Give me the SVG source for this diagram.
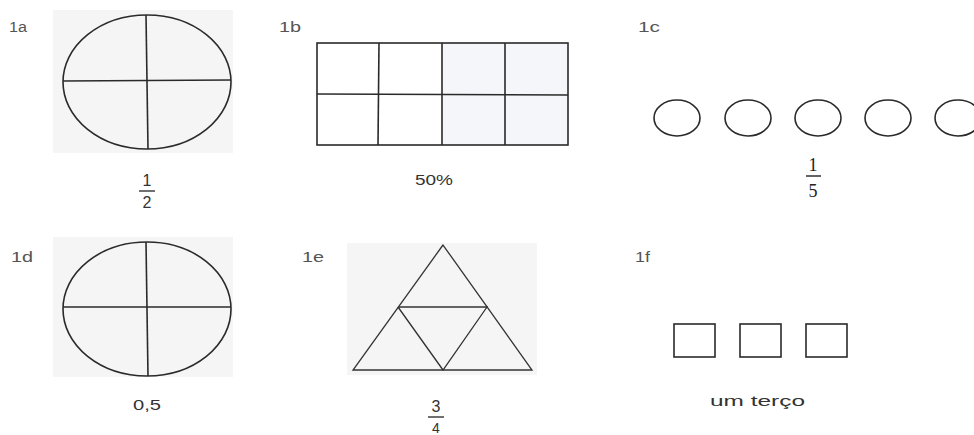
<svg xmlns="http://www.w3.org/2000/svg" width="974" height="435" viewBox="0 0 974 435">
<style>
.bg{fill:#f5f5f5;stroke:none}
.ln{fill:none;stroke:#2a2a2a;stroke-width:1.6}
.tl{fill:none;stroke:#333;stroke-width:1.3}
.lbl{font-family:"Liberation Sans",Arial,sans-serif;font-size:14px;fill:#555}
.txt{font-family:"Liberation Sans",Arial,sans-serif;font-size:14px;fill:#333}
.frac{font-family:"Liberation Sans",Arial,sans-serif;font-size:16px;fill:#333}
.ser{font-family:"Liberation Serif","Times New Roman",serif;font-size:18px;fill:#222}
</style>
<rect width="974" height="435" fill="#fff"/>
<g id="n1a">
<text class="lbl" x="9" y="32" textLength="18" lengthAdjust="spacingAndGlyphs">1a</text>
<rect class="bg" x="53" y="10" width="180" height="143"/>
<ellipse class="ln" cx="147" cy="82" rx="84" ry="67"/>
<line class="ln" x1="63" y1="81" x2="231" y2="80"/>
<line class="ln" x1="146" y1="15" x2="148" y2="149"/>
<text class="frac" x="147" y="186" text-anchor="middle">1</text>
<line x1="139" y1="191" x2="155" y2="191" stroke="#333" stroke-width="1.4"/>
<text class="frac" x="147" y="208" text-anchor="middle">2</text>
</g>
<g id="n1b">
<text class="lbl" x="279" y="32" textLength="22" lengthAdjust="spacingAndGlyphs">1b</text>
<rect x="442" y="43" width="126" height="102" fill="#f5f6f9"/>
<rect class="ln" x="317" y="43" width="251" height="102"/>
<line class="ln" x1="317" y1="94" x2="568" y2="95"/>
<line class="ln" x1="379" y1="43" x2="378" y2="145"/>
<line class="ln" x1="442" y1="43" x2="442" y2="145"/>
<line class="ln" x1="505" y1="43" x2="505" y2="145"/>
<text class="txt" x="415" y="185" textLength="38" lengthAdjust="spacingAndGlyphs">50%</text>
</g>
<g id="n1c">
<text class="lbl" x="638" y="32" textLength="22" lengthAdjust="spacingAndGlyphs">1c</text>
<ellipse class="ln" cx="677" cy="118" rx="23" ry="18"/>
<ellipse class="ln" cx="748" cy="118" rx="23" ry="18"/>
<ellipse class="ln" cx="818" cy="118" rx="23" ry="18"/>
<ellipse class="ln" cx="888" cy="118" rx="23" ry="18"/>
<ellipse class="ln" cx="958" cy="118" rx="23" ry="18"/>
<text class="ser" x="813" y="171" text-anchor="middle">1</text>
<line x1="806" y1="176" x2="821" y2="176" stroke="#222" stroke-width="1.4"/>
<text class="ser" x="813" y="197" text-anchor="middle">5</text>
</g>
<g id="n1d">
<text class="lbl" x="11" y="262" textLength="22" lengthAdjust="spacingAndGlyphs">1d</text>
<rect class="bg" x="53" y="237" width="180" height="140"/>
<ellipse class="ln" cx="147" cy="309" rx="84" ry="67"/>
<line class="ln" x1="63" y1="307" x2="231" y2="307"/>
<line class="ln" x1="146" y1="242" x2="148" y2="376"/>
<text class="txt" x="147" y="410" text-anchor="middle" textLength="28" lengthAdjust="spacingAndGlyphs">0,5</text>
</g>
<g id="n1e">
<text class="lbl" x="302" y="262" textLength="22" lengthAdjust="spacingAndGlyphs">1e</text>
<rect class="bg" x="347" y="243" width="190" height="132"/>
<polygon class="tl" points="443,245 353,370 532,370"/>
<polyline class="tl" points="398,307 487,307 443,370 398,307"/>
<text class="frac" x="436" y="412" text-anchor="middle">3</text>
<line x1="428" y1="417" x2="444" y2="417" stroke="#333" stroke-width="1.4"/>
<text class="txt" x="436" y="433" text-anchor="middle">4</text>
</g>
<g id="n1f">
<text class="lbl" x="635" y="262" textLength="15" lengthAdjust="spacingAndGlyphs">1f</text>
<rect class="ln" x="674" y="324" width="41" height="33"/>
<rect class="ln" x="740" y="324" width="41" height="33"/>
<rect class="ln" x="806" y="324" width="41" height="33"/>
<text class="txt" x="710" y="406" textLength="95" lengthAdjust="spacingAndGlyphs">um terço</text>
</g>
<g id="connectors"/>
</svg>
